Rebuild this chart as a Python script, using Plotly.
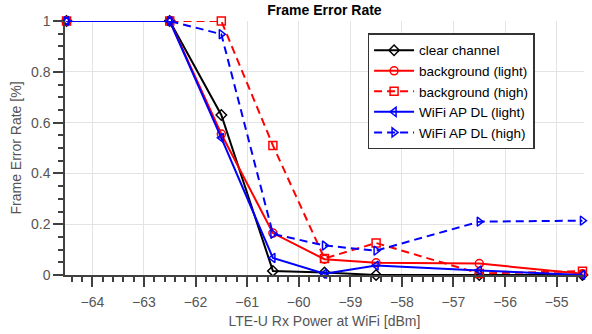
import plotly.graph_objects as go

x_power = [-64.5, -62.5, -61.5, -60.5, -59.5, -58.5, -56.5, -54.5]
clear_channel = [1.0, 1.0, 0.63, 0.016, 0.01, 0.0, 0.0, 0.0]
background_light = [1.0, 1.0, 0.555, 0.165, 0.062, 0.048, 0.045, 0.005]
background_high = [1.0, 1.0, 1.0, 0.51, 0.065, 0.126, 0.006, 0.015]
wifi_light = [1.0, 1.0, 0.54, 0.067, 0.005, 0.037, 0.018, 0.0]
wifi_high = [1.0, 1.0, 0.948, 0.162, 0.116, 0.096, 0.21, 0.214]

series = [
    ("clear channel", clear_channel, "black", "solid", "diamond-open"),
    ("background (light)", background_light, "red", "solid", "circle-open"),
    ("background (high)", background_high, "red", "8px,5px", "square-open"),
    ("WiFi AP DL (light)", wifi_light, "blue", "solid", "triangle-left-open"),
    ("WiFi AP DL (high)", wifi_high, "blue", "8px,5px", "triangle-right-open"),
]

fig = go.Figure()
for name, ys, color, dash, sym in series:
    fig.add_trace(go.Scatter(
        x=x_power, y=ys, name=name, mode="lines+markers", cliponaxis=False,
        line=dict(color=color, width=2, dash=dash),
        marker=dict(symbol=sym, size=8, color=color, line=dict(color=color, width=1.5)),
    ))

FONT = "Liberation Sans, Arial, sans-serif"
AX = "#404040"
TXT = "#555555"

fig.update_layout(
    width=592, height=334,
    margin=dict(l=65, r=8, t=21, b=59),
    paper_bgcolor="white", plot_bgcolor="white",
    font=dict(family=FONT, size=14, color=TXT),
    title=dict(text="<b>Frame Error Rate</b>", x=0.5481, xanchor="center",
               y=0.97, yanchor="middle", yref="container",
               font=dict(family=FONT, size=14, color="black")),
    showlegend=True,
    legend=dict(x=0.583, y=0.951, xanchor="left", yanchor="top",
                bgcolor="white", bordercolor="#333333", borderwidth=1.5,
                font=dict(family=FONT, size=13.5, color="black"),
                tracegroupgap=0, itemwidth=40),
)

fig.update_xaxes(
    range=[-64.53, -54.47], tick0=-64, dtick=1,
    showgrid=True, gridcolor="#e3e3e3", gridwidth=1,
    showline=True, linecolor=AX, linewidth=1.5,
    ticks="outside", ticklen=10, tickcolor=AX, tickwidth=1.5,
    minor=dict(dtick=0.2, tick0=-64, ticks="outside", ticklen=5, tickcolor=AX, tickwidth=1.5, showgrid=False),
    zeroline=False, ticklabelstandoff=3,
    tickfont=dict(family=FONT, size=14, color=TXT),
    title=dict(text="LTE-U Rx Power at WiFi [dBm]", standoff=8,
               font=dict(family=FONT, size=14, color=TXT)),
)
fig.update_yaxes(
    range=[0, 1], tick0=0, dtick=0.2,
    showgrid=True, gridcolor="#e3e3e3", gridwidth=1,
    showline=True, linecolor=AX, linewidth=1.5,
    ticks="outside", ticklen=10, tickcolor=AX, tickwidth=1.5,
    minor=dict(dtick=0.05, tick0=0, ticks="outside", ticklen=5, tickcolor=AX, tickwidth=1.5, showgrid=False),
    zeroline=False,
    tickformat="~g",
    tickfont=dict(family=FONT, size=14, color=TXT),
    title=dict(text="Frame Error Rate [%]", standoff=6,
               font=dict(family=FONT, size=14, color=TXT)),
)

fig.write_html("out.html")
